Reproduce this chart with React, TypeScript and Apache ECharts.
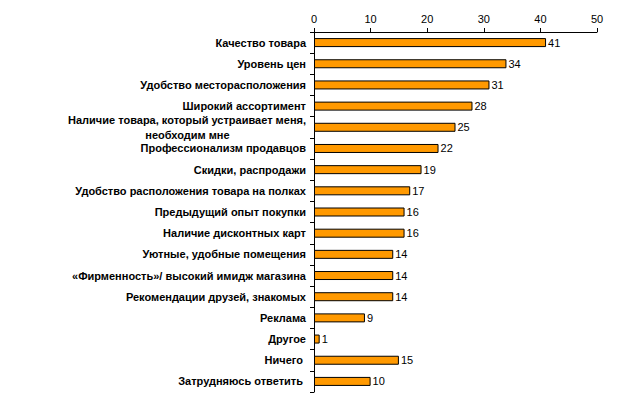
import React, { useEffect, useRef } from "react";
import * as echarts from "echarts";

const categories = [
  "Качество товара",
  "Уровень цен",
  "Удобство месторасположения",
  "Широкий ассортимент",
  "Наличие товара, который устраивает меня,\nнеобходим мне",
  "Профессионализм продавцов",
  "Скидки, распродажи",
  "Удобство расположения товара на полках",
  "Предыдущий опыт покупки",
  "Наличие дисконтных карт",
  "Уютные, удобные помещения",
  "«Фирменность»/ высокий имидж магазина",
  "Рекомендации друзей, знакомых",
  "Реклама",
  "Другое",
  "Ничего ",
  "Затрудняюсь ответить ",
];
const values = [41, 34, 31, 28, 25, 22, 19, 17, 16, 16, 14, 14, 14, 9, 1, 15, 10];
const xTicks = { min: 0, max: 50, interval: 10 };

const FONT = "Liberation Sans, Arial, sans-serif";

function measure(text: string): number {
  const c = document.createElement("canvas").getContext("2d")!;
  c.font = "bold 11px " + FONT;
  return c.measureText(text).width;
}

// centre the lines of a multi-line label (right-aligned block) with trailing no-break spaces
function centreLines(v: string): string {
  const lines = v.split("\n");
  if (lines.length === 1) return v;
  const maxW = Math.max(...lines.map(measure));
  const sp = measure("\u00a0") || 3;
  return lines
    .map((l) => {
      const n = Math.round((maxW - measure(l)) / 2 / sp);
      return l + "\u00a0".repeat(Math.max(0, n));
    })
    .join("\n");
}

export default function App() {
  const ref = useRef<HTMLDivElement>(null);
  useEffect(() => {
    const chart = echarts.init(ref.current!, null, { renderer: "svg" });
    chart.setOption({
      animation: false,
      backgroundColor: "#ffffff",
      grid: { left: 314, right: 27, top: 32, bottom: 5, containLabel: false },
      xAxis: {
        type: "value",
        position: "top",
        min: xTicks.min,
        max: xTicks.max,
        interval: xTicks.interval,
        axisLine: { show: true, lineStyle: { color: "#000", width: 1 } },
        axisTick: { show: true, length: 4, lineStyle: { color: "#000" } },
        axisLabel: { color: "#000", fontSize: 11, fontFamily: FONT, margin: 8 },
        splitLine: { show: false },
      },
      yAxis: {
        type: "category",
        inverse: true,
        data: categories,
        axisLine: { show: true, lineStyle: { color: "#000", width: 1 } },
        axisTick: { show: true, length: 4, lineStyle: { color: "#000" } },
        axisLabel: {
          color: "#000",
          fontSize: 11,
          fontWeight: "bold",
          fontFamily: FONT,
          lineHeight: 15,
          margin: 8,
          formatter: (v: string) => centreLines(v),
        },
      },
      series: [
        {
          type: "bar",
          data: values,
          barWidth: 9,
          itemStyle: { color: "#FF9900", borderColor: "#000", borderWidth: 1 },
          label: {
            show: true,
            position: "right",
            distance: 2,
            color: "#000",
            fontSize: 11,
            fontFamily: FONT,
          },
        },
      ],
    });
    return () => chart.dispose();
  }, []);
  return <div ref={ref} style={{ width: 624, height: 397, position: "absolute", left: 0, top: 0 }} />;
}
